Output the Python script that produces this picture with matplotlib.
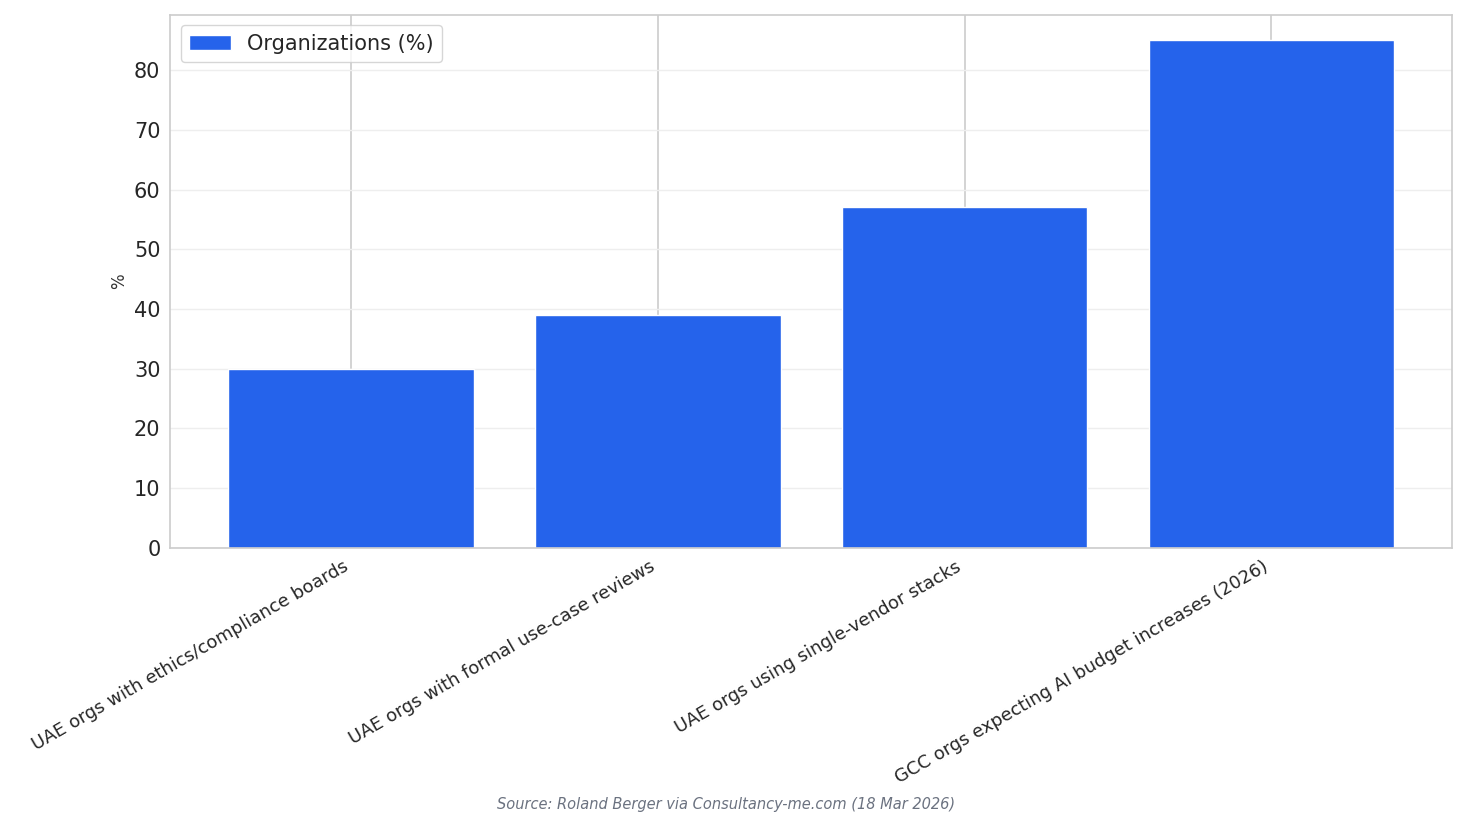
import matplotlib
matplotlib.use('Agg')
import matplotlib.pyplot as plt
import seaborn as sns

categories = [
    "UAE orgs with ethics/compliance boards",
    "UAE orgs with formal use-case reviews",
    "UAE orgs using single-vendor stacks",
    "GCC orgs expecting AI budget increases (2026)",
]
values = [30, 39, 57, 85]

sns.set_style("whitegrid")
plt.rcParams['font.family'] = ['DejaVu Sans']

fig, ax = plt.subplots(figsize=(14.67, 8.24), dpi=100)
ax.bar(categories, values, width=0.8, color="#2563eb", label="Organizations (%)", zorder=2)

ax.set_ylabel("%", fontsize=12, color="#333333")
ax.set_yticks(range(0, 90, 10))
ax.tick_params(axis='y', labelsize=15)
ax.tick_params(axis='x', labelsize=13)
plt.setp(ax.get_xticklabels(), rotation=30, ha="right")
ax.grid(axis='y', color="#eeeeee", linewidth=1)
ax.grid(axis='x', color="#cccccc", linewidth=1.2)
for s in ax.spines.values():
    s.set_color("#cccccc")
    s.set_linewidth(1.2)

ax.legend(loc="upper left", fontsize=15)
fig.text(0.495, 0.018, "Source: Roland Berger via Consultancy-me.com (18 Mar 2026)",
         ha="center", fontsize=10.5, style="italic", color="#6b7280")

fig.subplots_adjust(left=0.116, right=0.99, top=0.982, bottom=0.335)
fig.savefig("out.png", dpi=100)
